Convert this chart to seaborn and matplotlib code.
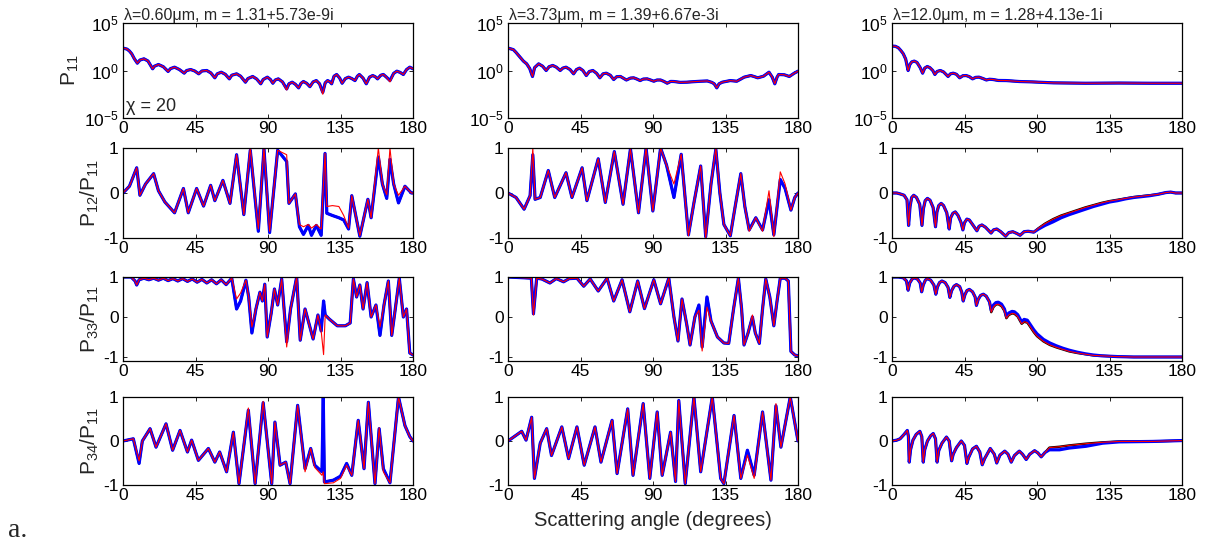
import numpy as np
import matplotlib
matplotlib.use("Agg")
import matplotlib.pyplot as plt
from matplotlib.ticker import NullLocator, FixedLocator
import seaborn as sns

# ---------------- data ----------------
titles = ["\u03bb=0.60\u03bcm, m = 1.31+5.73e-9i",
          "\u03bb=3.73\u03bcm, m = 1.39+6.67e-3i",
          "\u03bb=12.0\u03bcm, m = 1.28+4.13e-1i"]
row_labels = [r"$\mathregular{P_{11}}$", r"$\mathregular{P_{12}/P_{11}}$",
              r"$\mathregular{P_{33}/P_{11}}$", r"$\mathregular{P_{34}/P_{11}}$"]
xticks = [0, 45, 90, 135, 180]

# --- P11 (log10 values) ---
p11_c1_ang = [0, 2.5, 4, 5.4, 7, 8.9, 10.5, 13, 15.5, 18.4,
              19.5, 22, 25, 28, 29.5, 32, 35, 38, 39.5, 42,
              44.5, 47, 49, 52, 54.5, 57, 58.5, 61, 63.5, 66,
              67.5, 70.5, 73, 76, 77.5, 80.5, 83, 85.5, 87, 89.6,
              91.5, 93, 94.5, 96.4, 99, 101.6, 103, 105, 107, 109,
              110.5, 112, 114, 116, 118, 120, 122, 124, 125.5, 127,
              128.5, 129.5, 131, 132.6, 134.5, 136, 138, 140, 142, 144,
              145.5, 146.7, 149, 151, 153, 155, 156.5, 158, 160, 161.6,
              163.5, 165.7, 168, 170, 172, 174, 176, 178, 180]
p11_c1_blue = [2.36, 2.25, 2.05, 1.76, 1.25, 0.77, 1.1, 1.23, 1.0, 0.18,
               0.45, 0.63, 0.4, -0.1, 0.2, 0.35, 0.1, -0.28, 0.0, 0.1,
               -0.05, -0.35, -0.05, 0.0, -0.25, -0.77, -0.35, -0.18, -0.4, -0.88,
               -0.5, -0.35, -0.6, -1.23, -0.85, -0.63, -0.9, -1.4, -0.95, -0.7,
               -0.95, -1.34, -1.0, -0.88, -1.2, -1.94, -1.4, -1.23, -1.45, -1.83,
               -1.35, -1.16, -1.35, -1.7, -1.2, -1.06, -1.4, -2.3, -1.3, -1.06,
               -1.2, -1.4, -0.6, -0.42, -0.8, -1.34, -0.85, -0.7, -0.85, -1.06,
               -0.6, -0.42, -0.8, -1.4, -0.7, -0.53, -0.65, -0.88, -0.5, -0.42,
               -0.7, -1.06, -0.3, -0.07, -0.2, -0.42, 0.1, 0.35, 0.18]
p11_c1_red = [2.36, 2.25, 2.05, 1.76, 1.25, 0.77, 1.1, 1.23, 1.0, 0.18,
              0.45, 0.63, 0.4, -0.1, 0.2, 0.35, 0.1, -0.28, 0.0, 0.1,
              -0.05, -0.35, -0.05, 0.0, -0.25, -0.77, -0.35, -0.18, -0.4, -0.88,
              -0.5, -0.35, -0.6, -1.23, -0.85, -0.63, -0.9, -1.4, -0.95, -0.7,
              -0.95, -1.34, -1.0, -0.88, -1.2, -2.05, -1.4, -1.23, -1.45, -1.83,
              -1.35, -1.16, -1.35, -1.7, -1.2, -1.06, -1.4, -2.5, -1.3, -1.06,
              -1.2, -1.4, -0.6, -0.42, -0.8, -1.34, -0.85, -0.7, -0.85, -1.06,
              -0.6, -0.42, -0.8, -1.4, -0.7, -0.53, -0.65, -0.88, -0.5, -0.42,
              -0.7, -1.2, -0.3, -0.07, -0.2, -0.42, 0.1, 0.35, 0.18]

p11_c2_ang = [0, 3.3, 5, 7, 9.5, 11.6, 13.5, 15.2, 16.5, 19,
              21.5, 23.7, 25.5, 27.8, 30, 32.4, 34, 36, 38.5, 40.7,
              42.5, 44.4, 46.5, 48.6, 50.5, 52.7, 55, 57, 59, 61,
              63.5, 65.6, 67.5, 69.8, 71.5, 73.5, 76, 78, 80, 82,
              84, 86.4, 88.5, 90.5, 92.5, 94.7, 96.8, 98.8, 101, 103,
              107, 111, 115, 119.6, 123.7, 126.5, 128, 129.6, 131, 133,
              138, 142, 144.5, 146.6, 150.7, 153, 155, 158.6, 162, 164,
              165.6, 167, 168, 171.5, 174.6, 177.7, 180]
p11_c2_blue = [2.36, 2.2, 1.9, 1.5, 1.0, 0.7, 0.2, -0.63, 0.3, 0.7,
               0.45, 0.0, 0.4, 0.53, 0.35, 0.0, 0.25, 0.35, 0.1, -0.35,
               0.1, 0.25, 0.0, -0.53, -0.1, 0.0, -0.3, -0.77, -0.35, -0.28,
               -0.5, -0.95, -0.65, -0.63, -0.8, -1.0, -0.8, -0.77, -0.9, -1.06,
               -0.9, -0.88, -1.0, -1.13, -1.0, -1.0, -1.15, -1.34, -1.15, -1.16,
               -1.25, -1.23, -1.18, -1.13, -1.1, -1.25, -1.4, -1.83, -1.4, -1.23,
               -1.06, -1.13, -0.9, -0.7, -0.53, -0.65, -0.77, -0.6, -0.18, -0.7,
               -1.4, -0.7, -0.42, -0.45, -0.63, -0.28, -0.07]
p11_c2_red = p11_c2_blue

p11_c3_ang = [0, 2, 3.9, 5.5, 7, 8.5, 10, 11, 12.2, 13.8,
              15.5, 17.5, 19, 20.3, 21.9, 23.5, 25.3, 26.6, 28, 30,
              32, 34.8, 36.3, 38, 40, 42, 44, 46, 48, 50,
              52, 54, 56.5, 58.6, 60.5, 62.7, 66, 71, 79, 87,
              100, 120, 141, 160, 180]
p11_c3_blue = [2.57, 2.55, 2.4, 2.1, 1.76, 1.2, 0.0, 0.6, 0.9, 0.99,
               0.85, 0.3, -0.28, 0.25, 0.42, 0.3, 0.0, -0.42, -0.1, 0.0,
               -0.15, -0.63, -0.35, -0.28, -0.4, -0.77, -0.55, -0.53, -0.65, -0.88,
               -0.72, -0.7, -0.85, -1.0, -0.92, -0.95, -1.05, -1.06, -1.16, -1.2,
               -1.3, -1.34, -1.32, -1.34, -1.34]
p11_c3_red = p11_c3_blue

# --- P12/P11 ---
p12_c1_ang = [0, 4, 8.5, 10.5, 14, 19, 22, 26, 32, 37.5, 40.5, 45.7, 50, 54.4, 57, 62, 66.4, 70.5, 75, 79, 84, 87.5, 91,
              96, 101.6, 103, 107, 109.5, 112, 115, 117, 120, 123, 125.4, 126.5, 130, 134, 137, 140, 142, 147, 152, 154,
              158.5, 161, 163.7, 165.7, 168, 171, 175, 179, 180]
p12_c1_blue = [0, 0.15, 0.56, -0.05, 0.2, 0.43, 0.05, -0.2, -0.44, 0.1, -0.44, 0.1, -0.29, 0.17, -0.17, 0.28, -0.23,
               0.85, -0.48, 0.95, -0.85, 0.98, -0.88, 0.95, 0.7, -0.23, -0.02, -0.75, -0.92, -0.72, -0.94, -0.72, -0.94,
               0.88, -0.45, -0.5, -0.55, -0.6, -0.8, -0.06, -0.96, -0.14, -0.55, 0.8, 0.2, -0.12, 0.75, 0.2, -0.22,
               0.15, 0.0, 0.0]
p12_c1_red = [0, 0.15, 0.56, -0.05, 0.2, 0.43, 0.05, -0.2, -0.44, 0.1, -0.44, 0.1, -0.29, 0.17, -0.17, 0.28, -0.23,
              0.85, -0.48, 1.0, -0.8, 1.0, -0.85, 0.95, 0.85, -0.23, -0.02, -0.7, -0.75, -0.7, -0.78, -0.7, -0.8, 0.88,
              -0.3, -0.28, -0.3, -0.5, -0.78, -0.06, -0.95, -0.14, -0.55, 1.0, 0.2, -0.04, 1.0, 0.2, -0.05, 0.15, 0.0,
              0.0]

p12_c2_ang = [0, 5, 10, 13.7, 15.4, 16.8, 20, 25, 29, 36, 39.7, 46, 49, 56, 60.4, 66, 71.4, 76, 81, 85.7, 89.9, 94.7,
              98.4, 103, 107.5, 112, 115.5, 119.6, 122.7, 126, 129, 131.5, 134, 138, 141, 144.5, 147, 149.7, 153.8, 158,
              162, 165, 169, 172, 175.6, 178, 180]
p12_c2_blue = [0, -0.1, -0.36, -0.06, 0.85, -0.14, -0.1, 0.5, -0.1, 0.45, -0.1, 0.56, -0.17, 0.76, -0.21, 0.92, -0.25,
               0.98, -0.44, 1.0, -0.4, 1.0, 0.62, -0.1, 0.86, -0.93, -0.2, 0.6, -0.97, 0.2, 0.97, 0.0, -0.7, -0.95, -0.3,
               0.43, -0.3, -0.82, -0.55, -0.82, -0.15, -0.93, 0.3, 0.1, -0.38, -0.1, 0.0]
p12_c2_red = [0, -0.1, -0.36, -0.06, 1.0, -0.14, -0.1, 0.5, -0.1, 0.45, -0.1, 0.56, -0.17, 0.76, -0.21, 0.92, -0.25,
              0.98, -0.44, 1.0, -0.4, 1.0, 0.62, 0.2, 0.86, -0.95, -0.2, 0.6, -1.0, 0.2, 1.0, 0.0, -0.7, -0.95, -0.3,
              0.43, -0.3, -0.85, -0.55, -0.85, 0.05, -0.97, 0.47, 0.2, -0.38, -0.1, 0.0]

p12_c3_ang = [0, 3, 5, 7.5, 9.3, 10.3, 11.2, 12.2, 13.5, 15.2,
              17.2, 18.6, 19.5, 20.6, 22, 23.6, 25.5, 27, 27.9, 29,
              30.5, 32, 34, 35.5, 36.4, 37.8, 39.3, 41, 42.8, 44,
              45, 46.5, 48, 50, 52.7, 54, 55.8, 58, 61.5, 63,
              65, 67.5, 70.5, 72.5, 75, 77.5, 79.5, 82, 84.5, 88,
              91, 95, 100, 105, 110, 115, 120, 125, 130, 135,
              140, 145, 150, 155, 160, 165, 170, 173, 176, 180]
p12_c3_blue = [0, 0.0, -0.02, -0.05, -0.15, -0.72, -0.3, -0.1, -0.05, -0.1,
               -0.25, -0.72, -0.35, -0.17, -0.12, -0.16, -0.32, -0.75, -0.42, -0.28,
               -0.23, -0.28, -0.44, -0.8, -0.55, -0.45, -0.42, -0.5, -0.65, -0.82,
               -0.66, -0.58, -0.6, -0.7, -0.84, -0.74, -0.71, -0.76, -0.89, -0.82,
               -0.8, -0.86, -0.96, -0.88, -0.86, -0.9, -0.94, -0.86, -0.85, -0.87,
               -0.8, -0.72, -0.64, -0.55, -0.48, -0.42, -0.36, -0.3, -0.25, -0.2,
               -0.17, -0.13, -0.1, -0.08, -0.06, -0.03, 0.01, 0.02, 0.0, 0.0]
p12_c3_black = [0, 0.0, -0.02, -0.05, -0.15, -0.72, -0.3, -0.1, -0.05, -0.1,
                -0.25, -0.72, -0.35, -0.17, -0.12, -0.16, -0.32, -0.75, -0.42, -0.28,
                -0.23, -0.28, -0.44, -0.8, -0.55, -0.45, -0.42, -0.5, -0.65, -0.82,
                -0.66, -0.58, -0.6, -0.7, -0.84, -0.74, -0.71, -0.76, -0.89, -0.82,
                -0.8, -0.86, -0.96, -0.88, -0.86, -0.9, -0.94, -0.86, -0.85, -0.87,
                -0.78, -0.68, -0.58, -0.5, -0.44, -0.38, -0.32, -0.27, -0.22, -0.18,
                -0.15, -0.12, -0.09, -0.07, -0.05, -0.03, 0.01, 0.02, 0.0, 0.0]

# --- P33/P11 ---
p33_c1_ang = [0, 5, 7.5, 8.5, 10, 13, 16, 19, 22, 25, 28, 31, 34, 37, 40, 43, 46, 49, 52, 55, 58, 61, 64, 67.5, 70.5,
              73, 76.3, 78, 80, 82.5, 85, 86.5, 88, 89.5, 92, 94, 96, 98.5, 101.6, 104, 107.8, 110, 113, 115, 118, 121,
              123, 124.5, 125.5, 128, 133, 138, 141, 143, 145, 147, 149, 151.5, 154, 157, 159.5, 162, 164.7, 166.8, 169,
              171.5, 174, 176, 178, 180]
p33_c1_blue = [1, 1, 0.9, 0.8, 0.93, 0.97, 0.93, 0.97, 0.92, 0.97, 0.91, 0.96, 0.9, 0.96, 0.89, 0.95, 0.87, 0.94, 0.85,
               0.93, 0.83, 0.93, 0.81, 0.97, 0.2, 0.4, 0.92, 0.5, -0.4, 0.2, 0.62, 0.4, 0.82, -0.5, 0.1, 0.7, 0.3, 0.95,
               -0.62, 0.2, 1.0, -0.58, 0.2, -0.1, -0.55, 0.05, -0.35, 0.4, 0.05, -0.05, -0.22, -0.22, -0.15, 0.95, 0.5,
               0.8, 0.2, 0.86, 0.0, 0.3, -0.46, 0.3, 0.9, -0.46, 0.2, 0.97, 0.0, 0.2, -0.9, -0.95]
p33_c1_red = [1, 1, 0.9, 0.8, 0.93, 0.97, 0.93, 0.97, 0.92, 0.97, 0.91, 0.96, 0.9, 0.96, 0.89, 0.95, 0.87, 0.94, 0.85,
              0.93, 0.83, 0.93, 0.81, 0.97, 0.45, 0.6, 0.92, 0.5, -0.25, 0.2, 0.62, 0.4, 0.82, -0.5, 0.1, 0.7, 0.3, 0.95,
              -0.75, 0.2, 1.0, -0.58, 0.2, -0.1, -0.55, 0.05, -0.35, -0.94, 0.05, -0.05, -0.22, -0.22, -0.15, 0.95, 0.5,
              0.8, 0.2, 0.86, 0.0, 0.3, -0.25, 0.3, 0.9, -0.46, 0.2, 0.97, 0.0, 0.2, -0.9, -0.95]

p33_c2_ang = [0, 10, 14.5, 15.8, 17.8, 21, 26, 30, 34.5, 38, 42.8, 47, 51, 56, 61.5, 65.6, 70.8, 75.6, 80.5, 84.7, 90.5,
              94.7, 99.8, 103, 105.5, 108, 111, 113, 116, 118.5, 120.5, 123.5, 126, 130, 134, 137, 140, 143, 145, 146.5,
              149, 151.7, 153.5, 156, 158, 160, 162.5, 165, 167, 169, 172, 174, 175.6, 178, 180]
p33_c2_blue = [1, 0.98, 0.97, 0.08, 0.97, 0.95, 0.85, 0.96, 0.88, 0.96, 0.97, 0.77, 0.95, 0.65, 0.97, 0.4, 0.93, 0.13,
               0.9, 0.21, 0.93, 0.33, 0.97, 0.0, -0.6, 0.45, -0.2, -0.7, 0.0, 0.3, -0.75, 0.5, -0.1, -0.5, -0.65, -0.66,
               0.2, 0.97, 0.2, -0.7, -0.4, 0.0, -0.4, -0.66, 0.2, 0.95, 0.5, -0.22, 0.4, 0.97, 0.97, 0.9, -0.86, -0.95,
               -0.97]
p33_c2_red = [1, 0.98, 0.97, 0.05, 0.97, 0.95, 0.85, 0.96, 0.88, 0.96, 0.97, 0.77, 0.95, 0.65, 0.97, 0.4, 0.93, 0.13,
              0.9, 0.21, 0.93, 0.33, 0.97, 0.0, -0.6, 0.45, -0.2, -0.7, 0.0, 0.17, -0.85, 0.25, -0.1, -0.5, -0.65, -0.66,
              0.2, 0.97, 0.2, -0.7, -0.4, 0.05, -0.4, -0.66, 0.2, 0.95, 0.5, -0.22, 0.4, 0.97, 0.97, 0.9, -0.86, -0.95,
              -0.97]

p33_c3_ang = [0, 4, 7, 9, 10, 11, 12.5, 14.2, 16, 17.5,
              18.4, 19.4, 20.7, 22, 24, 26, 27.2, 28.2, 29.5, 31,
              33, 34.8, 35.9, 37, 38.5, 40, 42, 43.3, 44.2, 45.3,
              46.5, 48, 50, 51.6, 52.4, 53.5, 55, 56.7, 58.5, 60.5,
              61.6, 63, 64.5, 66, 68, 69.8, 71, 72.5, 74.5, 76,
              78, 79.5, 80.5, 82, 84, 86, 88, 90, 94, 98,
              102, 106, 110, 115, 120, 125, 130, 135, 140, 150,
              160, 170, 180]
p33_c3_blue = [1, 1.0, 0.98, 0.9, 0.67, 0.85, 0.95, 0.98, 0.94, 0.85,
               0.63, 0.8, 0.92, 0.96, 0.92, 0.8, 0.57, 0.75, 0.86, 0.9,
               0.86, 0.74, 0.49, 0.66, 0.77, 0.81, 0.76, 0.62, 0.4, 0.56,
               0.66, 0.69, 0.63, 0.5, 0.29, 0.44, 0.54, 0.57, 0.52, 0.38,
               0.17, 0.3, 0.36, 0.37, 0.32, 0.2, 0.02, 0.1, 0.14, 0.13,
               0.06, -0.05, -0.12, -0.06, -0.08, -0.2, -0.32, -0.42, -0.56, -0.65,
               -0.72, -0.78, -0.83, -0.88, -0.92, -0.95, -0.97, -0.98, -0.99, -1.0,
               -1.0, -1.0, -1.0]
p33_c3_black = [1, 1.0, 0.98, 0.9, 0.67, 0.85, 0.95, 0.98, 0.94, 0.85,
                0.63, 0.8, 0.92, 0.96, 0.92, 0.8, 0.57, 0.75, 0.86, 0.9,
                0.86, 0.74, 0.49, 0.66, 0.77, 0.81, 0.76, 0.62, 0.4, 0.56,
                0.66, 0.69, 0.63, 0.5, 0.29, 0.44, 0.54, 0.57, 0.52, 0.38,
                0.12, 0.25, 0.31, 0.32, 0.27, 0.15, -0.03, 0.05, 0.09, 0.08,
                0.01, -0.1, -0.17, -0.12, -0.14, -0.26, -0.38, -0.48, -0.61, -0.7,
                -0.76, -0.81, -0.86, -0.9, -0.93, -0.96, -0.97, -0.98, -0.99, -1.0,
                -1.0, -1.0, -1.0]

# --- P34/P11 ---
p34_c1_ang = [0, 6.4, 10, 12, 16.8, 20.5, 26.7, 30.8, 35.4, 40, 42.6, 46.8, 53, 57, 60, 64.3, 68.5, 72, 77.8, 82, 87,
              92.3, 94.3, 97.5, 101, 103.7, 108.4, 113, 116.5, 119, 123.5, 124.3, 125, 130.6, 135, 138.8, 142, 146,
              149.6, 152.3, 156.4, 159, 161.6, 165.7, 171, 175, 178, 180]
p34_c1_blue = [0, 0.05, -0.51, 0.0, 0.28, -0.14, 0.39, -0.21, 0.24, -0.25, 0.02, -0.44, -0.17, -0.48, -0.25, -0.7, 0.2,
               -0.97, 0.7, -0.97, 0.87, -0.97, 0.43, -0.55, -0.48, -0.97, 0.81, -0.63, -0.17, -0.55, -0.7, 1.0, -0.93,
               -0.89, -0.8, -0.51, -0.78, 0.47, -0.63, 0.88, -0.97, 0.28, -0.63, -0.95, 1.0, 0.35, 0.1, 0.0]
p34_c1_red = [0, 0.05, -0.45, 0.0, 0.28, -0.14, 0.39, -0.21, 0.24, -0.25, 0.02, -0.44, -0.17, -0.48, -0.25, -0.7, 0.2,
              -0.97, 0.75, -0.97, 0.9, -0.97, 0.43, -0.55, -0.48, -0.97, 0.81, -0.7, -0.17, -0.6, -0.78, -0.7, -0.97,
              -0.95, -0.85, -0.55, -0.78, 0.47, -0.63, 0.88, -0.97, 0.3, -0.7, -0.95, 1.0, 0.35, 0.1, 0.0]

p34_c2_ang = [0, 8.5, 11.2, 14.7, 16.4, 20, 24, 27, 33.4, 37.6, 42.8, 47.3, 54, 57.7, 64.6, 67.7, 74.3, 77.6, 83.9, 88,
              92.6, 95.7, 100.9, 104, 106, 110, 115.4, 119.6, 126.8, 132, 134, 140.3, 144.5, 148.6, 152.8, 158, 163.2,
              166.3, 169.4, 175.2, 180]
p34_c2_blue = [0, 0.22, 0.02, 0.54, -0.85, -0.05, 0.28, -0.33, 0.32, -0.4, 0.32, -0.55, 0.32, -0.48, 0.47, -0.74, 0.73,
               -0.78, 0.85, -0.85, 0.66, -0.78, 0.2, -0.92, 0.92, -0.97, 1.0, -0.7, 1.0, -0.85, -0.97, 0.58, -0.85,
               -0.21, -0.78, 0.66, -0.89, 0.8, -0.14, 1.0, 0.0]
p34_c2_red = [0, 0.22, 0.02, 0.54, -0.85, -0.05, 0.28, -0.33, 0.32, -0.4, 0.32, -0.55, 0.32, -0.48, 0.47, -0.74, 0.73,
              -0.78, 0.85, -0.85, 0.66, -0.78, 0.2, -0.92, 0.92, -0.97, 1.0, -0.7, 1.0, -0.85, -0.97, 0.58, -0.85,
              -0.32, -0.85, 0.66, -0.89, 0.85, -0.14, 1.0, 0.0]

p34_c3_ang = [0, 3, 5, 7.5, 9.5, 10.2, 10.7, 11.5, 13, 15,
              17.3, 18.5, 19.4, 20.3, 22, 24, 25.6, 27, 28, 29,
              31, 33.8, 35.5, 37, 38, 40, 43, 45, 46.5, 47.5,
              50, 52.4, 54.5, 56, 57.5, 61, 63.5, 65, 67, 70,
              72, 74, 76, 79, 81, 83.3, 85.5, 88.5, 90.5, 92.6,
              95, 97.7, 104, 110, 120.4, 130.7, 141, 161.7, 180]
p34_c3_blue = [0, 0.02, 0.05, 0.15, 0.24, 0.1, -0.48, -0.2, 0.02, 0.15,
               0.22, 0.1, -0.48, -0.2, 0.0, 0.12, 0.17, 0.05, -0.48, -0.22,
               -0.05, 0.09, 0.0, -0.45, -0.3, -0.15, 0.0, -0.1, -0.51, -0.38,
               -0.18, -0.12, -0.25, -0.54, -0.4, -0.17, -0.3, -0.5, -0.32, -0.23,
               -0.3, -0.48, -0.33, -0.23, -0.3, -0.42, -0.3, -0.22, -0.27, -0.36,
               -0.26, -0.2, -0.2, -0.16, -0.12, -0.05, -0.02, -0.01, 0.01]
p34_c3_black = [0, 0.02, 0.05, 0.15, 0.24, 0.1, -0.48, -0.2, 0.02, 0.15,
                0.22, 0.1, -0.48, -0.2, 0.0, 0.12, 0.17, 0.05, -0.48, -0.22,
                -0.05, 0.09, 0.0, -0.45, -0.3, -0.15, 0.0, -0.1, -0.51, -0.38,
                -0.18, -0.12, -0.25, -0.54, -0.4, -0.17, -0.3, -0.5, -0.32, -0.23,
                -0.3, -0.48, -0.33, -0.23, -0.3, -0.42, -0.3, -0.22, -0.27, -0.36,
                -0.26, -0.15, -0.13, -0.1, -0.06, -0.03, -0.01, -0.01, 0.01]

# panel table: (angles, black, blue, red)
panels = [
    [(p11_c1_ang, p11_c1_blue, p11_c1_blue, p11_c1_red),
     (p11_c2_ang, p11_c2_blue, p11_c2_blue, p11_c2_red),
     (p11_c3_ang, p11_c3_blue, p11_c3_blue, p11_c3_red)],
    [(p12_c1_ang, p12_c1_blue, p12_c1_blue, p12_c1_red),
     (p12_c2_ang, p12_c2_blue, p12_c2_blue, p12_c2_red),
     (p12_c3_ang, p12_c3_black, p12_c3_blue, p12_c3_black)],
    [(p33_c1_ang, p33_c1_blue, p33_c1_blue, p33_c1_red),
     (p33_c2_ang, p33_c2_blue, p33_c2_blue, p33_c2_red),
     (p33_c3_ang, p33_c3_black, p33_c3_blue, p33_c3_black)],
    [(p34_c1_ang, p34_c1_blue, p34_c1_blue, p34_c1_red),
     (p34_c2_ang, p34_c2_blue, p34_c2_blue, p34_c2_red),
     (p34_c3_ang, p34_c3_black, p34_c3_blue, p34_c3_black)],
]

# ---------------- style ----------------
sns.set_theme(style="ticks")
plt.rcParams.update({
    "font.family": ["Liberation Sans", "DejaVu Sans"],
    "mathtext.fontset": "custom",
    "mathtext.rm": "Liberation Sans",
    "mathtext.it": "Liberation Sans:italic",
    "mathtext.bf": "Liberation Sans:bold",
    "xtick.direction": "in", "ytick.direction": "in",
    "xtick.top": True, "ytick.right": True,
    "xtick.bottom": True, "ytick.left": True,
    "xtick.major.size": 3, "ytick.major.size": 3,
    "xtick.major.width": 0.6, "ytick.major.width": 0.6,
    "axes.linewidth": 0.9, "axes.edgecolor": "black",
    "xtick.color": "black", "ytick.color": "black",
    "xtick.labelsize": 12.5, "ytick.labelsize": 12.5,
    "xtick.major.pad": 2.5, "ytick.major.pad": 3,
})

W, H = 1208, 548
fig = plt.figure(figsize=(W / 100, H / 100), dpi=100, facecolor="white")

lefts = [123, 508, 892]
width = 290
rows = [(23, 118), (148, 238), (277, 361), (397, 485)]

for r in range(4):
    for c in range(3):
        top, bot = rows[r]
        ax = fig.add_axes([lefts[c] / W, (H - bot) / H, width / W, (bot - top) / H])
        ang, blk, blu, red = panels[r][c]
        log = (r == 0)
        for vals, col, lw in [(blk, "black", 1.7), (blu, "blue", 2.3), (red, "red", 0.8)]:
            y = np.power(10.0, np.asarray(vals)) if log else np.asarray(vals)
            sns.lineplot(x=np.asarray(ang), y=y, ax=ax, color=col, linewidth=lw,
                         estimator=None, sort=False, legend=False)
        ax.set_xlim(0, 180)
        ax.xaxis.set_major_locator(FixedLocator(xticks))
        ax.set_xticklabels([str(t) for t in xticks])
        if log:
            ax.set_yscale("log")
            ax.set_ylim(1e-5, 1e5)
            ax.yaxis.set_major_locator(FixedLocator([1e-5, 1e0, 1e5]))
            ax.yaxis.set_minor_locator(NullLocator())
            ax.text(0.005, 1.0, titles[c], transform=ax.transAxes, ha="left", va="bottom", fontsize=11.5)
        else:
            ax.set_ylim(-1.1 if r == 2 else -1, 1)
            ax.yaxis.set_major_locator(FixedLocator([-1, 0, 1]))
            ax.set_yticklabels(["-1", "0", "1"])
        ax.set_xlabel("")
        ax.set_ylabel("")
        ax.grid(False)
        for s in ax.spines.values():
            s.set_visible(True)
            s.set_color("black")
        if c == 0:
            ax.set_ylabel(row_labels[r], fontsize=15, labelpad=2)
        if r == 0 and c == 0:
            ax.text(0.012, 0.07, "\u03c7 = 20", transform=ax.transAxes, ha="left", va="baseline", fontsize=13)

fig.text((508 + 797) / 2 / W, (H - 520) / H, "Scattering angle (degrees)", ha="center", va="center", fontsize=14.5)
fig.text(8 / W, (H - 537) / H, "a.", ha="left", va="baseline", fontsize=20, family="Liberation Serif")

fig.savefig("out.png", dpi=100, facecolor="white")
